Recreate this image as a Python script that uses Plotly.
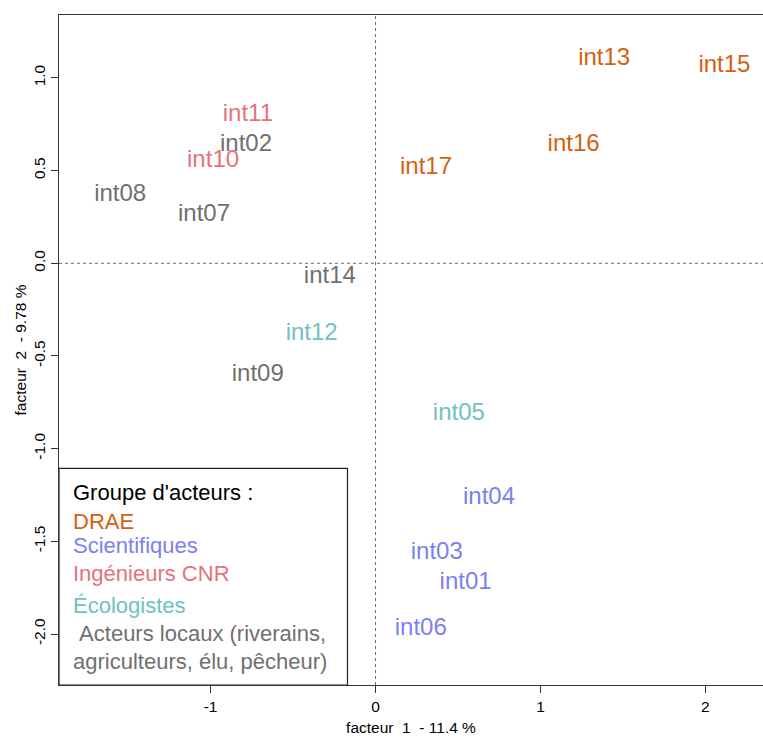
import plotly.graph_objects as go

# ---- data ----
labels = ["int01", "int02", "int03", "int04", "int05", "int06", "int07", "int08", "int09",
          "int10", "int11", "int12", "int13", "int14", "int15", "int16", "int17"]
fact1 = [0.546, -0.785, 0.371, 0.688, 0.505, 0.274, -1.040, -1.548, -0.714,
         -0.985, -0.774, -0.387, 1.386, -0.277, 2.115, 1.201, 0.306]
fact2 = [-1.724, 0.636, -1.565, -1.267, -0.814, -1.972, 0.258, 0.369, -0.603,
         0.549, 0.797, -0.381, 1.103, -0.076, 1.062, 0.639, 0.513]
groups = ["Scientifiques", "Acteurs locaux", "Scientifiques", "Scientifiques", "Écologistes",
          "Scientifiques", "Acteurs locaux", "Acteurs locaux", "Acteurs locaux",
          "Ingénieurs CNR", "Ingénieurs CNR", "Écologistes", "DRAE", "Acteurs locaux",
          "DRAE", "DRAE", "DRAE"]
group_names = ["DRAE", "Scientifiques", "Ingénieurs CNR", "Écologistes", "Acteurs locaux"]
group_colors = ["#D65F0E", "#7C80F0", "#E4737A", "#70C1C1", "#707070"]
legend_lines = ["DRAE", "Scientifiques", "Ingénieurs CNR", "Écologistes",
                "\u00a0Acteurs locaux (riverains,", "agriculteurs, élu, pêcheur)"]
legend_line_colors = ["#D65F0E", "#7C80F0", "#E4737A", "#70C1C1", "#707070", "#707070"]
x_ticks = [-1, 0, 1, 2]
y_ticks = [-2.0, -1.5, -1.0, -0.5, 0.0, 0.5, 1.0]
x_title = "facteur\u00a0 1\u00a0 - 11.4 %"
y_title = "facteur\u00a0 2\u00a0 - 9.78 %"

FONT = "Liberation Sans, Arial, Helvetica, sans-serif"
xr = [-1.919, 2.349]
yr = [-2.275, 1.339]

fig = go.Figure()
for g, c in zip(group_names, group_colors):
    idx = [i for i, gg in enumerate(groups) if gg == g]
    fig.add_trace(go.Scatter(
        x=[fact1[i] for i in idx], y=[fact2[i] for i in idx],
        text=[labels[i] for i in idx], mode="text",
        textposition="middle center",
        textfont=dict(family=FONT, size=24, color=c),
        showlegend=False, hoverinfo="skip"))

# reference dashed lines
fig.add_shape(type="line", xref="x", yref="paper", x0=0, x1=0, y0=0, y1=1,
              line=dict(color="#666666", width=1, dash="3px,3px"))
fig.add_shape(type="line", xref="paper", yref="y", x0=0, x1=1, y0=0, y1=0,
              line=dict(color="#666666", width=1, dash="3px,3px"))

# legend box (bottom-left)
box_right, box_top = -0.170, -1.106
fig.add_shape(type="rect", xref="x", yref="y", x0=xr[0], x1=box_right, y0=yr[0], y1=box_top,
              line=dict(color="#222222", width=1.2), fillcolor="white", layer="above")

leg_x = -1.844
fig.add_annotation(x=leg_x, y=-1.237, xref="x", yref="y", text="Groupe d'acteurs :",
                   showarrow=False, xanchor="left", yanchor="middle",
                   font=dict(family=FONT, size=22, color="black"))
leg_y = [-1.395, -1.525, -1.674, -1.845, -1.997, -2.147]
for t, c, yy in zip(legend_lines, legend_line_colors, leg_y):
    fig.add_annotation(x=leg_x, y=yy, xref="x", yref="y", text=t,
                       showarrow=False, xanchor="left", yanchor="middle",
                       font=dict(family=FONT, size=22, color=c))

fig.update_layout(
    width=763, height=737,
    margin=dict(l=59, r=0, t=15, b=52),
    paper_bgcolor="white", plot_bgcolor="white",
    font=dict(family=FONT, size=15.5, color="black"),
)
fig.update_xaxes(range=xr, tickvals=x_ticks, ticktext=[str(v) for v in x_ticks],
                 showgrid=False, zeroline=False, showline=True, linecolor="#333333",
                 linewidth=1.2, mirror=True, ticks="outside", ticklen=7, tickcolor="#333333",
                 tickfont=dict(family=FONT, size=15.5, color="black"),
                 title=dict(text=x_title, font=dict(family=FONT, size=15.5), standoff=8))
fig.update_yaxes(range=yr, tickvals=y_ticks, ticktext=["%.1f" % v for v in y_ticks],
                 tickangle=-90,
                 showgrid=False, zeroline=False, showline=True, linecolor="#333333",
                 linewidth=1.2, mirror=False, ticks="outside", ticklen=7, tickcolor="#333333",
                 tickfont=dict(family=FONT, size=15.5, color="black"),
                 title=dict(text=y_title, font=dict(family=FONT, size=15.5), standoff=0))

fig.write_html("out.html",
               config={"displayModeBar": False, "staticPlot": True},
               post_script="document.body.style.margin='0';document.body.style.overflow='hidden';")
